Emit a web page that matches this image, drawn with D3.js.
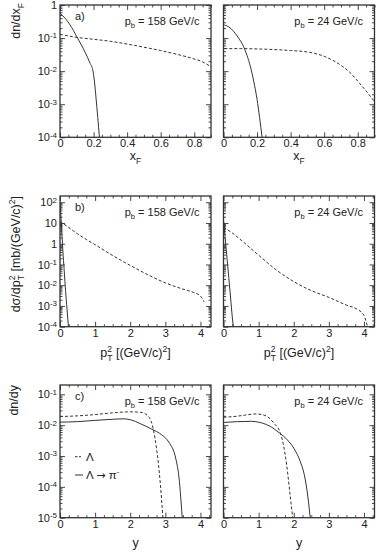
<!DOCTYPE html>
<html>
<head>
<meta charset="utf-8">
<script src="https://cdn.jsdelivr.net/npm/d3@7"></script>
<style>
  body { margin: 0; background: #fff; }
  svg text { font-family: "Liberation Sans", Arial, Helvetica, sans-serif; fill: #222; }
</style>
</head>
<body>
<svg width="382" height="558"></svg>
<script>
// ---- data: [x, y] pairs ----
// a) dn/dxF
const xfSolid158 = [[0,0.56],[0.03,0.4],[0.06,0.25],[0.1,0.11],[0.15,0.037],[0.18,0.017],[0.195,0.011],[0.205,0.005],[0.215,0.0015],[0.225,0.0004],[0.235,0.0001]];
const xfDash158 = [[0,0.13],[0.1,0.105],[0.2,0.092],[0.3,0.08],[0.4,0.066],[0.5,0.053],[0.6,0.042],[0.7,0.032],[0.78,0.025],[0.85,0.019],[0.9,0.0135]];
const xfSolid24 = [[0.005,0.25],[0.03,0.22],[0.06,0.16],[0.09,0.1],[0.12,0.055],[0.14,0.03],[0.16,0.014],[0.18,0.005],[0.2,0.0014],[0.215,0.0004],[0.23,0.0001]];
const xfDash24 = [[0.005,0.048],[0.1,0.048],[0.2,0.047],[0.3,0.045],[0.4,0.042],[0.5,0.038],[0.6,0.028],[0.7,0.015],[0.76,0.0085],[0.8,0.005],[0.85,0.0025],[0.9,0.0012]];
// b) dsigma/dpT2
const ptSolid158 = [[0,100],[0.02,30],[0.04,8],[0.06,2],[0.08,0.5],[0.12,0.05],[0.16,0.005],[0.2,0.0007],[0.24,0.0001]];
const ptDash158 = [[0,12],[0.25,6],[0.5,3],[0.75,1.6],[1,0.9],[1.5,0.27],[2,0.09],[2.5,0.032],[3,0.013],[3.5,0.0065],[3.8,0.0045],[4,0.003],[4.1,0.0016]];
const ptSolid24 = [[0,14],[0.05,1.7],[0.1,0.2],[0.15,0.023],[0.2,0.0027],[0.25,0.0003],[0.28,0.0001]];
const ptDash24 = [[0,6],[0.25,3.3],[0.5,1.5],[0.75,0.65],[1,0.28],[1.5,0.055],[2,0.015],[2.5,0.0055],[3,0.0026],[3.5,0.0011],[3.8,0.0007],[4,0.00035],[4.1,0.0001]];
// c) dn/dy
const ySolid158 = [[0,0.0125],[0.5,0.013],[1,0.0143],[1.5,0.0155],[1.8,0.016],[2,0.015],[2.3,0.011],[2.6,0.0075],[2.9,0.0048],[3.1,0.0028],[3.3,0.0008],[3.4,0.00015],[3.45,0.00003],[3.48,0.00001]];
const yDash158 = [[0,0.019],[0.5,0.02],[1,0.022],[1.5,0.025],[2,0.027],[2.3,0.026],[2.5,0.02],[2.6,0.013],[2.7,0.004],[2.8,0.0006],[2.9,0.00003],[2.93,0.00001]];
const ySolid24 = [[0,0.0122],[0.4,0.013],[0.8,0.0133],[1.0,0.0125],[1.3,0.0095],[1.6,0.0055],[1.8,0.0035],[2.0,0.0018],[2.2,0.0006],[2.3,0.00025],[2.4,0.00005],[2.47,0.00001]];
const yDash24 = [[0,0.018],[0.3,0.019],[0.6,0.021],[0.9,0.023],[1.1,0.022],[1.3,0.017],[1.45,0.011],[1.6,0.0063],[1.7,0.0025],[1.8,0.0005],[1.9,0.00005],[1.97,0.00001]];

// ticks / labels
const xfTicks = [0, 0.2, 0.4, 0.6, 0.8];
const ptTicks = [0, 1, 2, 3, 4];
const yTicksA = [1e-4, 1e-3, 1e-2, 1e-1, 1];
const yTicksB = [1e-4, 1e-3, 1e-2, 1e-1, 1, 10, 100];
const yTicksC = [1e-5, 1e-4, 1e-3, 1e-2, 1e-1];
const beamLabels = ["158", "24"];
const panelLetters = ["a)", "b)", "c)"];

const svg = d3.select('svg');
const cols = [{x0: 60, x1: 211}, {x0: 223.5, x1: 374.5}];
const rows = [
  {y0: 5, y1: 137.3, xd: [0, 0.9], yd: [1e-4, 1], xt: xfTicks, xm: 0.05, yt: yTicksA,
   fmt: d => d === 0 ? '0' : d.toFixed(1), data: [[xfSolid158, xfDash158], [xfSolid24, xfDash24]]},
  {y0: 196, y1: 326.7, xd: [0, 4.3], yd: [1e-4, 200], xt: ptTicks, xm: 0.25, yt: yTicksB,
   fmt: d => String(d), data: [[ptSolid158, ptDash158], [ptSolid24, ptDash24]]},
  {y0: 385, y1: 517.7, xd: [0, 4.3], yd: [1e-5, 0.2], xt: ptTicks, xm: 0.25, yt: yTicksC,
   fmt: d => String(d), data: [[ySolid158, yDash158], [ySolid24, yDash24]]}
];

function logMinor(domain) {
  const out = [];
  for (let e = Math.floor(Math.log10(domain[0])); e <= Math.ceil(Math.log10(domain[1])); e++) {
    for (let m = 2; m <= 9; m++) {
      const v = m * Math.pow(10, e);
      if (v > domain[0] && v < domain[1]) out.push(v);
    }
  }
  return out;
}

function powLabel(text, d) {
  const e = Math.round(Math.log10(d));
  text.text(null);
  if (e === 0) { text.text('1'); return; }
  if (e === 1) { text.text('10'); return; }
  text.append('tspan').text('10');
  text.append('tspan').attr('dy', '-0.45em').attr('font-size', '8px').text(e);
}

function tidy(g) {
  g.attr('color', '#333');
  g.select('.domain').remove();
  g.selectAll('.tick line').attr('stroke-width', 0.9);
}

rows.forEach((r, ri) => {
  cols.forEach((c, ci) => {
    const x = d3.scaleLinear().domain(r.xd).range([c.x0, c.x1]);
    const y = d3.scaleLog().domain(r.yd).range([r.y1, r.y0]);
    const xMinor = d3.range(0, r.xd[1] + 1e-9, r.xm).filter(v => !r.xt.some(t => Math.abs(t - v) < 1e-9));
    const yMinor = logMinor(r.yd);
    const g = svg.append('g');

    // bottom
    g.append('g').attr('transform', `translate(0,${r.y1})`)
      .call(d3.axisBottom(x).tickValues(r.xt).tickSize(-5).tickPadding(2).tickFormat(r.fmt))
      .call(tidy)
      .selectAll('text').attr('font-size', 11).attr('fill', '#222');
    g.append('g').attr('transform', `translate(0,${r.y1})`)
      .call(d3.axisBottom(x).tickValues(xMinor).tickSize(-2.5).tickFormat(''))
      .call(tidy);
    // top
    g.append('g').attr('transform', `translate(0,${r.y0})`)
      .call(d3.axisTop(x).tickValues(r.xt).tickSize(-5).tickFormat(''))
      .call(tidy);
    g.append('g').attr('transform', `translate(0,${r.y0})`)
      .call(d3.axisTop(x).tickValues(xMinor).tickSize(-2.5).tickFormat(''))
      .call(tidy);
    // left
    const left = g.append('g').attr('transform', `translate(${c.x0},0)`)
      .call(d3.axisLeft(y).tickValues(r.yt).tickSize(-5).tickPadding(3))
      .call(tidy);
    if (ci === 0) {
      left.selectAll('.tick text').attr('font-size', 11).attr('fill', '#222')
        .each(function(d) { powLabel(d3.select(this), d); });
    } else {
      left.selectAll('.tick text').remove();
    }
    g.append('g').attr('transform', `translate(${c.x0},0)`)
      .call(d3.axisLeft(y).tickValues(yMinor).tickSize(-2.5).tickFormat(''))
      .call(tidy);
    // right
    g.append('g').attr('transform', `translate(${c.x1},0)`)
      .call(d3.axisRight(y).tickValues(r.yt).tickSize(-5).tickFormat(''))
      .call(tidy);
    g.append('g').attr('transform', `translate(${c.x1},0)`)
      .call(d3.axisRight(y).tickValues(yMinor).tickSize(-2.5).tickFormat(''))
      .call(tidy);

    // frame
    g.append('rect')
      .attr('x', c.x0).attr('y', r.y0)
      .attr('width', c.x1 - c.x0).attr('height', r.y1 - r.y0)
      .attr('fill', 'none').attr('stroke', '#333').attr('stroke-width', 1.3);

    // curves
    const clipId = `clip${ri}${ci}`;
    svg.append('clipPath').attr('id', clipId).append('rect')
      .attr('x', c.x0).attr('y', r.y0).attr('width', c.x1 - c.x0).attr('height', r.y1 - r.y0);
    const line = d3.line().x(d => x(d[0])).y(d => y(d[1])).curve(d3.curveMonotoneX);
    const [solid, dash] = r.data[ci];
    g.append('path').datum(dash).attr('clip-path', `url(#${clipId})`)
      .attr('fill', 'none').attr('stroke', '#333').attr('stroke-width', 1)
      .attr('stroke-dasharray', '3,2').attr('d', line);
    g.append('path').datum(solid).attr('clip-path', `url(#${clipId})`)
      .attr('fill', 'none').attr('stroke', '#333').attr('stroke-width', 1).attr('d', line);

    // beam momentum label
    const pb = g.append('text').attr('x', c.x1 - 11.5).attr('y', r.y0 + 20)
      .attr('text-anchor', 'end').attr('font-size', 11);
    pb.append('tspan').text('p');
    pb.append('tspan').attr('dy', 3).attr('font-size', 7.5).text('b');
    pb.append('tspan').attr('dy', -3).text(` = ${beamLabels[ci]} GeV/c`);

    if (ci === 0) {
      g.append('text').attr('x', c.x0 + 15).attr('y', r.y0 + 15)
        .attr('font-size', 11).text(panelLetters[ri]);
    }

    // x titles
    const cx = (c.x0 + c.x1) / 2;
    if (ri === 0) {
      const t = g.append('text').attr('x', cx).attr('y', r.y1 + 23)
        .attr('text-anchor', 'middle').attr('font-size', 12.5);
      t.append('tspan').text('x');
      t.append('tspan').attr('dy', 3.5).attr('font-size', 8.5).text('F');
    } else if (ri === 1) {
      const t = g.append('text').attr('x', cx).attr('y', r.y1 + 30)
        .attr('text-anchor', 'middle').attr('font-size', 12.5);
      t.append('tspan').text('p');
      t.append('tspan').attr('dy', -5).attr('font-size', 8.5).text('2');
      t.append('tspan').attr('dx', -4.7).attr('dy', 9).attr('font-size', 8.5).text('T');
      t.append('tspan').attr('dy', -4).text(' [(GeV/c)');
      t.append('tspan').attr('dy', -5).attr('font-size', 8.5).text('2');
      t.append('tspan').attr('dy', 5).text(']');
    } else {
      g.append('text').attr('x', cx).attr('y', r.y1 + 29)
        .attr('text-anchor', 'middle').attr('font-size', 12.5).text('y');
    }
  });
});

// y titles (rotated)
const ta = svg.append('text').attr('transform', `translate(20,${rows[0].y0 - 2}) rotate(-90)`)
  .attr('text-anchor', 'end').attr('font-size', 12.5);
ta.append('tspan').text('dn/dx');
ta.append('tspan').attr('dy', 3.5).attr('font-size', 8.5).text('F');

const tb = svg.append('text').attr('transform', `translate(20,${rows[1].y0}) rotate(-90)`)
  .attr('text-anchor', 'end').attr('font-size', 12.5);
tb.append('tspan').text('dσ/dp');
tb.append('tspan').attr('dy', -5).attr('font-size', 8.5).text('2');
tb.append('tspan').attr('dx', -4.7).attr('dy', 9).attr('font-size', 8.5).text('T');
tb.append('tspan').attr('dy', -4).text(' [mb/(GeV/c)');
tb.append('tspan').attr('dy', -5).attr('font-size', 8.5).text('2');
tb.append('tspan').attr('dy', 5).text(']');

svg.append('text').attr('transform', `translate(18,${rows[2].y0}) rotate(-90)`)
  .attr('text-anchor', 'end').attr('font-size', 12.5).text('dn/dy');

// legend in panel c
const legendItems = [
  {dash: '2.5,1.5', len: 6, label: ['Λ'], y: 456.7},
  {dash: null, len: 8, label: ['Λ ', '→', ' π'], y: 475}
];
legendItems.forEach((it, i) => {
  svg.append('line').attr('x1', 75).attr('x2', 75 + it.len).attr('y1', it.y).attr('y2', it.y)
    .attr('stroke', '#333').attr('stroke-width', 1)
    .attr('stroke-dasharray', it.dash);
  const t = svg.append('text').attr('x', 86).attr('y', it.y + 4).attr('font-size', 11.5);
  it.label.forEach(s => {
    const sp = t.append('tspan').text(s);
    if (s === '→') sp.style('font-family', '"DejaVu Sans", sans-serif').attr('font-size', 11);
  });
  if (i === 1) t.append('tspan').attr('dy', -5).attr('font-size', 8).text('-');
});
</script>
</body>
</html>
